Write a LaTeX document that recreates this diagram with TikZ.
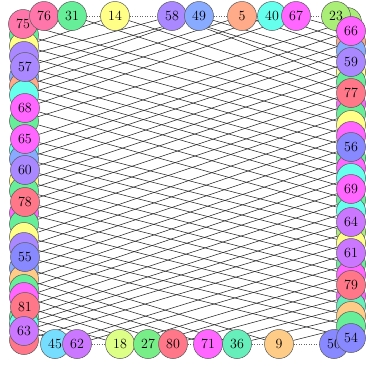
\documentclass[tikz,border=0pt]{standalone}
\usepackage{xcolor}
\usepackage{tikz}
\usetikzlibrary{backgrounds}
\definecolor{vpink}{HTML}{FF77AA}
\definecolor{vmint}{HTML}{66EE99}
\definecolor{vyellow}{HTML}{FFFF88}
\definecolor{vpurple}{HTML}{AA88FF}
\definecolor{vblue}{HTML}{88AAFF}
\definecolor{vorange}{HTML}{FFAA88}
\definecolor{vcyan}{HTML}{66FFEE}
\definecolor{vmagenta}{HTML}{FF66FF}
\definecolor{vlime}{HTML}{AAEE77}
\definecolor{vpale}{HTML}{DDFF88}
\definecolor{vred}{HTML}{FF7788}
\definecolor{vteal}{HTML}{66EEBB}
\definecolor{vpeach}{HTML}{FFCC88}
\definecolor{vslate}{HTML}{8888FF}
\definecolor{vviolet}{HTML}{CC77FF}
\definecolor{vsky}{HTML}{77DDFF}
\definecolor{vgreen}{HTML}{77EE88}
\tikzset{
  vtx/.style={
    circle, draw=black!65, fill=#1, line width=0.5pt,
    minimum size=29pt, inner sep=0pt,
    font=\fontsize{14}{16}\selectfont
  },
  vtx/.default=vmint,
  conn/.style={draw=black!85, line width=0.55pt},
  dotline/.style={dotted, draw=black!60, line width=0.5pt},
}
\begin{document}
\begin{tikzpicture}[x=1pt, y=-1pt]
  \useasboundingbox (0,0) rectangle (366,365);
  % hidden vertices, left side
  \node[vtx=vmint] (l1) at (24,35) {};
  \node[vtx=vyellow] (l2) at (24,46) {};
  \node[vtx=vpurple] (l3) at (24,56) {};
  \node[vtx=vblue] (l5) at (24,77) {};
  \node[vtx=vorange] (l6) at (24,86) {};
  \node[vtx=vcyan] (l7) at (24,95) {};
  \node[vtx=vmint] (l9) at (24,121) {};
  \node[vtx=vcyan] (l11) at (24,150) {};
  \node[vtx=vblue] (l12) at (24,159) {};
  \node[vtx=vyellow] (l14) at (24,181) {};
  \node[vtx=vmint] (l15) at (24,191) {};
  \node[vtx=vmagenta] (l17) at (24,213) {};
  \node[vtx=vmint] (l18) at (24,224) {};
  \node[vtx=vyellow] (l19) at (24,237) {};
  \node[vtx=vpurple] (l20) at (24,247) {};
  \node[vtx=vblue] (l22) at (24,268) {};
  \node[vtx=vpeach] (l23) at (24,279) {};
  \node[vtx=vmint] (l24) at (24,289) {};
  \node[vtx=vmagenta] (l25) at (24,297) {};
  \node[vtx=vmint] (l27) at (24,317) {};
  \node[vtx=vred] (l30) at (24,340) {};
  \node[vtx=vcyan] (l28) at (24,324) {};
  % hidden vertices, right side
  \node[vtx=vlime] (r0) at (347,22) {};
  \node[vtx=vorange] (r2) at (351,42) {};
  \node[vtx=vblue] (r3) at (351,51) {};
  \node[vtx=vyellow] (r5) at (351,72) {};
  \node[vtx=vmint] (r6) at (351,82) {};
  \node[vtx=vmagenta] (r8) at (351,104) {};
  \node[vtx=vmint] (r9) at (351,114) {};
  \node[vtx=vyellow] (r10) at (351,125) {};
  \node[vtx=vmagenta] (r11) at (351,136) {};
  \node[vtx=vmint] (r13) at (351,158) {};
  \node[vtx=vmagenta] (r14) at (351,168) {};
  \node[vtx=vcyan] (r15) at (351,178) {};
  \node[vtx=vmint] (r17) at (351,200) {};
  \node[vtx=vcyan] (r18) at (351,211) {};
  \node[vtx=vlime] (r20) at (351,232) {};
  \node[vtx=vyellow] (r21) at (351,243) {};
  \node[vtx=vmint] (r23) at (351,264) {};
  \node[vtx=vmagenta] (r24) at (351,275) {};
  \node[vtx=vmagenta] (r26) at (351,296) {};
  \node[vtx=vteal] (r27) at (351,306) {};
  \node[vtx=vpeach] (r28) at (351,316) {};
  \node[vtx=vmint] (r29) at (351,326) {};
  % labelled vertices, left side
  \node[vtx=vpink] (l0) at (23,24) {75};
  \node[vtx=vpurple] (l4) at (25,67) {57};
  \node[vtx=vmagenta] (l8) at (25,108) {68};
  \node[vtx=vmagenta] (l10) at (25,139) {65};
  \node[vtx=vpurple] (l13) at (25,170) {60};
  \node[vtx=vred] (l16) at (25,202) {78};
  \node[vtx=vslate] (l21) at (25,257) {55};
  \node[vtx=vred] (l26) at (25,307) {81};
  \node[vtx=vviolet] (l29) at (24,331) {63};
  % top row
  \node[vtx=vpink] (t1) at (44,16) {76};
  \node[vtx=vmint] (t2) at (72,16) {31};
  \node[vtx=vyellow] (t3) at (115,16) {14};
  \node[vtx=vpurple] (t4) at (172,16) {58};
  \node[vtx=vblue] (t5) at (199,16) {49};
  \node[vtx=vorange] (t6) at (242,16) {5};
  \node[vtx=vcyan] (t7) at (272,16) {40};
  \node[vtx=vmagenta] (t8) at (296,16) {67};
  \node[vtx=vlime] (t9) at (336,16) {23};
  % bottom row
  \node[vtx=vsky] (b1) at (55,344) {45};
  \node[vtx=vviolet] (b2) at (77,344) {62};
  \node[vtx=vpale] (b3) at (120,344) {18};
  \node[vtx=vgreen] (b4) at (148,344) {27};
  \node[vtx=vred] (b5) at (173,344) {80};
  \node[vtx=vmagenta] (b6) at (208,344) {71};
  \node[vtx=vteal] (b7) at (237,344) {36};
  \node[vtx=vpeach] (b8) at (279,344) {9};
  \node[vtx=vslate] (b9) at (334,344) {50};
  % labelled vertices, right side
  \node[vtx=vmagenta] (r1) at (351,31) {66};
  \node[vtx=vpurple] (r4) at (351,62) {59};
  \node[vtx=vred] (r7) at (351,93) {77};
  \node[vtx=vslate] (r12) at (351,147) {56};
  \node[vtx=vmagenta] (r16) at (351,189) {69};
  \node[vtx=vviolet] (r19) at (351,222) {64};
  \node[vtx=vviolet] (r22) at (351,253) {61};
  \node[vtx=vred] (r25) at (351,285) {79};
  \node[vtx=vslate] (r30) at (351,338) {54};

  \begin{scope}[on background layer]
    % left to right
    \foreach \i in {0,...,21} {
      \pgfmathtruncatemacro{\j}{\i+9}
      \draw[conn] (l\i) -- (r\j);
    }
    \foreach \i in {9,...,30} {
      \pgfmathtruncatemacro{\j}{\i-9}
      \draw[conn] (l\i) -- (r\j);
    }
    % to the top row
    \draw[conn] (l1) -- (t2);
    \draw[conn] (l2) -- (t3);
    \draw[conn] (l3) -- (t4);
    \draw[conn] (l4) -- (t5);
    \draw[conn] (l5) -- (t5);
    \draw[conn] (l6) -- (t6);
    \draw[conn] (l7) -- (t7);
    \draw[conn] (l8) -- (t8);
    \draw[conn] (r1) -- (t8);
    \draw[conn] (r2) -- (t7);
    \draw[conn] (r3) -- (t6);
    \draw[conn] (r4) -- (t5);
    \draw[conn] (r5) -- (t4);
    \draw[conn] (r6) -- (t4);
    \draw[conn] (r7) -- (t3);
    \draw[conn] (r8) -- (t2);
    % to the bottom row
    \draw[conn] (l22) -- (b8);
    \draw[conn] (l23) -- (b7);
    \draw[conn] (l24) -- (b6);
    \draw[conn] (l25) -- (b5);
    \draw[conn] (l26) -- (b4);
    \draw[conn] (l27) -- (b3);
    \draw[conn] (l28) -- (b2);
    \draw[conn] (l29) -- (b2);
    \draw[conn] (r22) -- (b1);
    \draw[conn] (r23) -- (b2);
    \draw[conn] (r24) -- (b3);
    \draw[conn] (r25) -- (b4);
    \draw[conn] (r26) -- (b5);
    \draw[conn] (r27) -- (b6);
    \draw[conn] (r28) -- (b7);
    \draw[conn] (r29) -- (b8);
    % dotted rows
    \draw[dotline] (t1) -- (t2) -- (t3) -- (t4) -- (t5) -- (t6) -- (t7) -- (t8) -- (t9);
    \draw[dotline] (b1) -- (b2) -- (b3) -- (b4) -- (b5) -- (b6) -- (b7) -- (b8) -- (b9);
  \end{scope}
\end{tikzpicture}
\end{document}
